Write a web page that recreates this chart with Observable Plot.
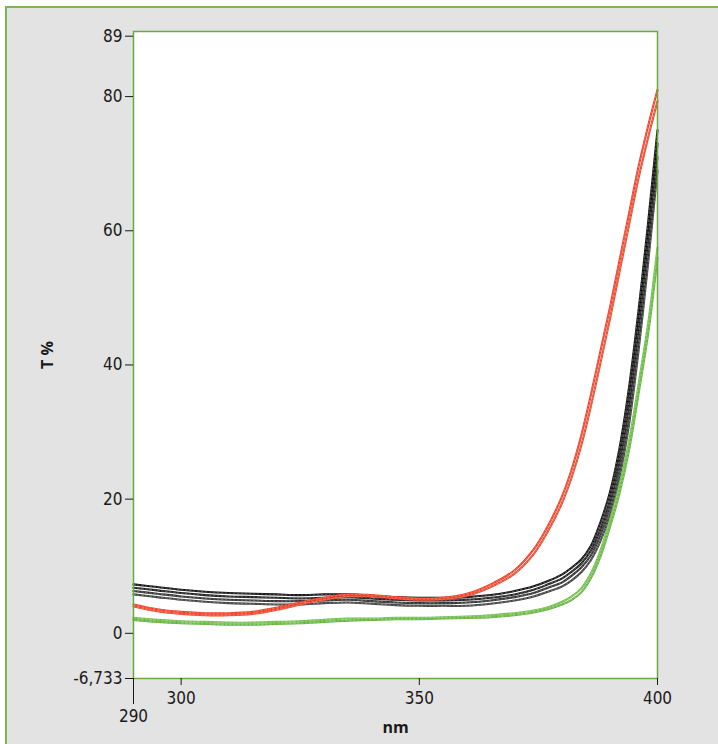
<!DOCTYPE html>
<html><head><meta charset="utf-8">
<script src="https://cdn.jsdelivr.net/npm/d3@7"></script>
<script src="https://cdn.jsdelivr.net/npm/@observablehq/plot@0.6"></script>
<style>
body{margin:0;background:#fff;}
#bg{position:absolute;left:5px;top:6px;width:713px;height:738px;background:#e3e3e3;border-top:2px solid #7db553;border-left:2px solid #7db553;box-sizing:border-box;}
#chart{position:absolute;left:0;top:0;}
</style></head><body>
<div id="bg"></div>
<div id="chart"></div>
<script>
const nm = [290,295,300,305,310,315,320,325,330,335,340,345,350,355,360,365,370,374,377,380,382,384,386,388,390,392,394,396,398,399,400];
const red1 = [4.3,3.6,3.2,3.0,3.0,3.2,3.8,4.6,5.3,5.8,5.7,5.4,5.2,5.3,5.9,7.3,9.4,12.5,16,20.5,24.5,29.5,35.5,42,48.5,55.5,62.5,69.5,75.5,78.3,81];
const red2 = [4.0,3.3,2.9,2.7,2.7,2.9,3.5,4.3,5.0,5.5,5.5,5.2,5.0,5.1,5.6,6.9,8.9,11.8,15.2,19.5,23.3,28,33.8,40.2,46.8,53.8,60.8,67.8,73.8,76.6,79.3];
const black1 = [7.3,6.9,6.5,6.2,6.0,5.9,5.8,5.7,5.8,5.8,5.6,5.4,5.3,5.3,5.4,5.7,6.3,7.0,7.8,8.8,9.8,11.0,13.0,16.5,21,27.5,36.5,48,61,68,75];
const black2 = [6.8,6.4,6.0,5.7,5.5,5.4,5.3,5.2,5.3,5.4,5.2,5.0,4.9,4.9,5.0,5.3,5.8,6.5,7.3,8.2,9.2,10.4,12.3,15.5,19.8,26,34.5,46,59,66,73];
const black3 = [6.3,5.9,5.5,5.2,5.0,4.9,4.8,4.8,4.9,5.0,4.8,4.6,4.5,4.5,4.6,4.9,5.4,6.0,6.8,7.6,8.6,9.8,11.6,14.6,18.7,24.6,32.8,44,57,64,71];
const black4 = [5.8,5.4,5.0,4.7,4.5,4.4,4.3,4.3,4.5,4.6,4.4,4.2,4.1,4.1,4.1,4.4,4.9,5.5,6.2,7.0,7.9,9.1,10.9,13.7,17.6,23.2,31,42,55,62,69];
const green1 = [2.3,2.0,1.8,1.7,1.6,1.6,1.7,1.8,2.0,2.2,2.2,2.3,2.3,2.4,2.5,2.7,3.0,3.4,3.9,4.7,5.5,6.7,8.9,12.3,16.8,22,28.5,37,46,51.5,57.5];
const green2 = [2.0,1.7,1.5,1.4,1.3,1.3,1.4,1.5,1.7,1.9,2.0,2.1,2.1,2.2,2.3,2.4,2.7,3.1,3.6,4.3,5.0,6.1,8.2,11.4,15.8,20.8,27.2,35.6,44.5,50,56];
const yTicks = [-6.733,0,20,40,60,80,89];
const xTicks = [300,350,400];
const xStart = [290];

const series = [
  {name:"black4", v:black4, c:"#3a3a3a"},
  {name:"black3", v:black3, c:"#2a2a2a"},
  {name:"black2", v:black2, c:"#151515"},
  {name:"black1", v:black1, c:"#0a0a0a"},
  {name:"green2", v:green2, c:"#5fb23a"},
  {name:"green1", v:green1, c:"#6cbd45"},
  {name:"red2", v:red2, c:"#e8442a"},
  {name:"red1", v:red1, c:"#ee3a1e"}
];

const lineMarks = [];
for (const s of series) {
  const rows = nm.map((x,i)=>({nm:x, T:s.v[i]}));
  lineMarks.push(Plot.line(rows,{x:"nm",y:"T",stroke:s.c,strokeWidth:2.1,curve:"catmull-rom"}));
  lineMarks.push(Plot.line(rows,{x:"nm",y:"T",stroke:"white",strokeOpacity:0.45,strokeWidth:0.7,strokeDasharray:"2,2",curve:"catmull-rom"}));
}

const chart = Plot.plot({
  width:718, height:744,
  marginLeft:133, marginRight:61, marginTop:31, marginBottom:66,
  style:{background:"transparent", fontFamily:"'Liberation Sans Narrow','DejaVu Sans Condensed','Open Sans',sans-serif", fontSize:"17px", color:"#1a1a1a"},
  x:{domain:[290,400]},
  y:{domain:[-6.733,89.7]},
  marks:[
    Plot.frame({fill:"white", stroke:null}),
    ...lineMarks,
    Plot.frame({stroke:"#6aaa3c", strokeWidth:1.5}),
    Plot.axisY({ticks:yTicks, tickSize:8, tickPadding:3, label:null, tickFormat:d=> d===-6.733 ? "-6,733" : String(d)}),
    Plot.axisX({ticks:xTicks, tickSize:7, tickPadding:6, label:null, tickFormat:d=>String(d)}),
    Plot.axisX({ticks:xStart, tickSize:26, tickPadding:5, label:null, tickFormat:d=>String(d)}),
    Plot.text(["nm"], {frameAnchor:"bottom", dy:49, lineAnchor:"middle", textAnchor:"middle", text:d=>d, fontWeight:"bold", fontSize:16, fontFamily:"'Open Sans',sans-serif"}),
    Plot.text(["T %"], {frameAnchor:"left", dx:-86, rotate:-90, lineAnchor:"middle", textAnchor:"middle", text:d=>d, fontWeight:"bold", fontSize:16, fontFamily:"'Open Sans',sans-serif"})
  ]
});
document.getElementById("chart").appendChild(chart);
</script>
</body></html>
